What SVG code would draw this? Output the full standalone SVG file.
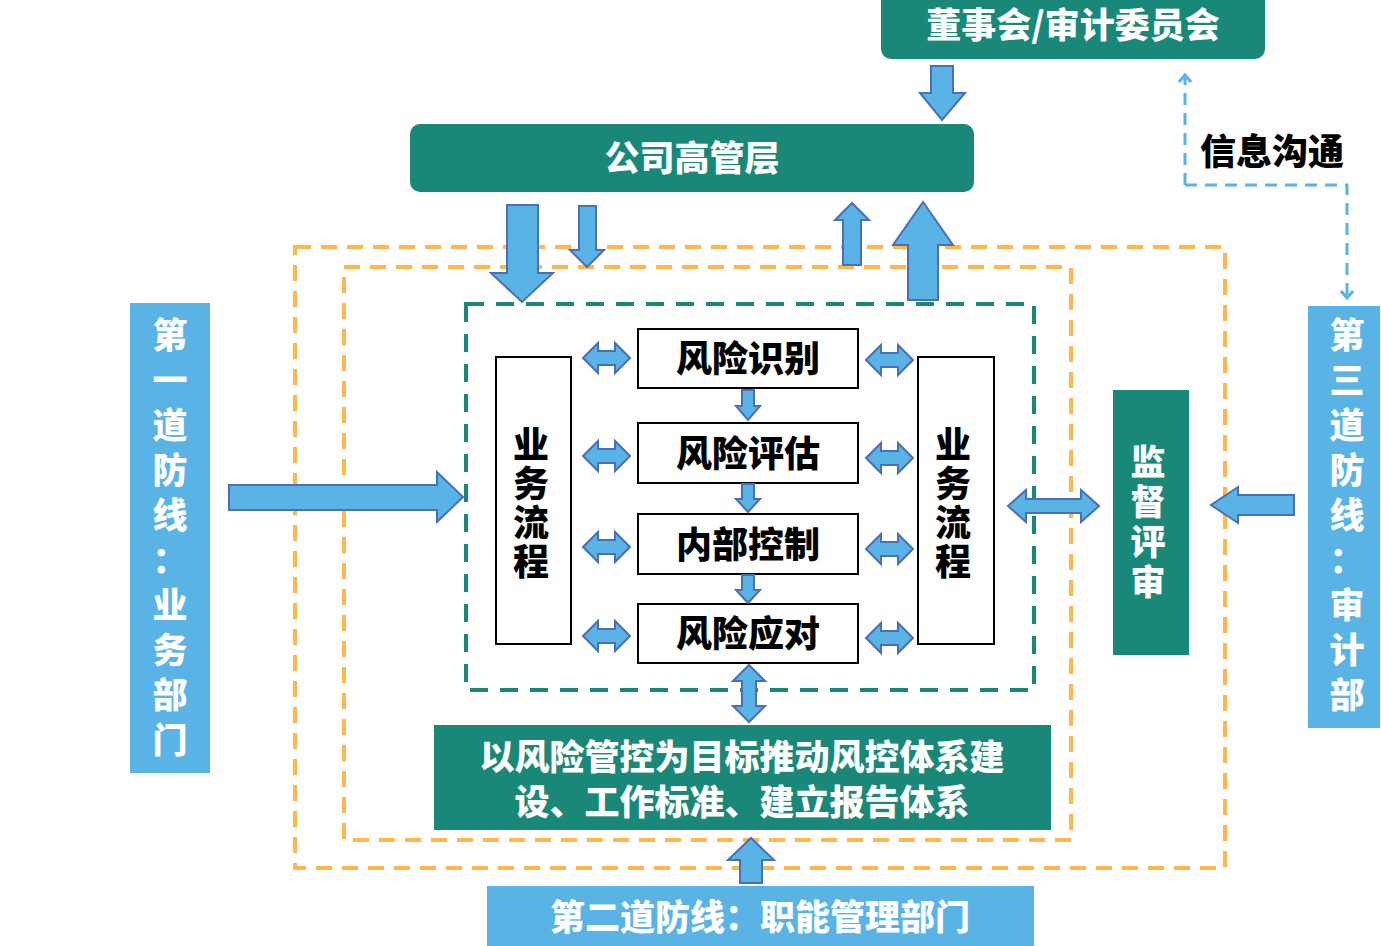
<svg xmlns="http://www.w3.org/2000/svg" width="1381" height="946" viewBox="0 0 1381 946">
<defs>
<style>
.teal{fill:#1a8878}
.lb{fill:#59b3e4}
.ar{fill:#59b3e4;stroke:#4a6fb5;stroke-width:2}
.wt{fill:#fff;font-family:"Noto Sans CJK SC",sans-serif;font-weight:900;font-size:35px;text-anchor:middle}
.bt{fill:#000;font-family:"Noto Sans CJK SC",sans-serif;font-weight:900;font-size:36px;text-anchor:middle}
.box{fill:#fff;stroke:#000;stroke-width:2}
.od{fill:none;stroke:#ffb74d;stroke-width:4;stroke-dasharray:16 10}
</style>
<marker id="bh" markerWidth="16" markerHeight="14" refX="8" refY="7" orient="auto" markerUnits="userSpaceOnUse"><path d="M1,1 L8,7 L1,13" fill="none" stroke="#59b3e4" stroke-width="3"/></marker>
</defs>
<rect width="1381" height="946" fill="#fff"/>
<rect class="od" x="295" y="247" width="930" height="621"/>
<rect class="od" x="344" y="267" width="727" height="573"/>
<rect x="466" y="304" width="568" height="386" fill="none" stroke="#1a8878" stroke-width="4" stroke-dasharray="18 12"/>

<g id="board"><rect class="teal" x="881" y="-10" width="384" height="69" rx="10"/><text class="wt" x="1073" y="38">董事会/审计委员会</text></g>
<g id="mgmt"><rect class="teal" x="410" y="124" width="564" height="68" rx="10"/><text class="wt" x="692" y="171">公司高管层</text></g>
<g id="line1"><rect class="lb" x="130" y="303" width="80" height="470"/>
<g class="wt" font-size="36"><text x="170" y="348">第</text><text x="170" y="393">一</text><text x="170" y="438">道</text><text x="170" y="483">防</text><text x="170" y="528">线</text><text x="170" y="573">：</text><text x="170" y="618">业</text><text x="170" y="663">务</text><text x="170" y="708">部</text><text x="170" y="753">门</text></g></g>
<g id="line3"><rect class="lb" x="1308" y="306" width="72" height="422"/>
<g class="wt" font-size="36"><text x="1347" y="348">第</text><text x="1347" y="393">三</text><text x="1347" y="438">道</text><text x="1347" y="483">防</text><text x="1347" y="528">线</text><text x="1347" y="573">：</text><text x="1347" y="618">审</text><text x="1347" y="663">计</text><text x="1347" y="708">部</text></g></g>
<g id="bizL"><rect class="box" x="496" y="357" width="75" height="287"/><g class="bt" font-size="38"><text x="531" y="458">业</text><text x="531" y="497">务</text><text x="531" y="536">流</text><text x="531" y="575">程</text></g></g>
<g id="bizR"><rect class="box" x="918" y="357" width="76" height="287"/><g class="bt" font-size="38"><text x="953" y="458">业</text><text x="953" y="497">务</text><text x="953" y="536">流</text><text x="953" y="575">程</text></g></g>
<g id="n1"><rect class="box" x="638" y="329" width="220" height="59"/><text class="bt" x="748" y="372">风险识别</text></g>
<g id="n2"><rect class="box" x="638" y="423" width="220" height="60"/><text class="bt" x="748" y="467">风险评估</text></g>
<g id="n3"><rect class="box" x="638" y="514" width="220" height="60"/><text class="bt" x="748" y="558">内部控制</text></g>
<g id="n4"><rect class="box" x="638" y="604" width="220" height="59"/><text class="bt" x="748" y="647">风险应对</text></g>
<g id="audit"><rect class="teal" x="1113" y="390" width="76" height="265"/><g class="wt" font-size="36"><text x="1148" y="475">监</text><text x="1148" y="515">督</text><text x="1148" y="555">评</text><text x="1148" y="595">审</text></g></g>
<g id="goal"><rect class="teal" x="434" y="725" width="617" height="105"/><text class="wt" x="742" y="770">以风险管控为目标推动风控体系建</text><text class="wt" x="742" y="815">设、工作标准、建立报告体系</text></g>
<g id="line2"><rect class="lb" x="487" y="886" width="547" height="60"/><text class="wt" x="760" y="930">第二道防线：职能管理部门</text></g>
<text x="1200" y="165" font-family="Noto Sans CJK SC,sans-serif" font-weight="900" font-size="36">信息沟通</text>

<g id="connectors">
<path d="M1185,185 V75" fill="none" stroke="#59b3e4" stroke-width="3" stroke-dasharray="12 8" marker-end="url(#bh)"/>
<path d="M1185,185 H1347 V298" fill="none" stroke="#59b3e4" stroke-width="3" stroke-dasharray="12 8" marker-end="url(#bh)"/>
<path class="ar" d="M931,66 H953 V93 H965 L942,120 L920,93 H931 Z"/>
<path class="ar" d="M507,205 H538 V273 H553 L522,302 L491,273 H507 Z"/>
<path class="ar" d="M579,206 H596 V250 H604 L587,267 L570,250 H579 Z"/>
<path class="ar" d="M843,265 H861 V220 H869 L852,203 L835,220 H843 Z"/>
<path class="ar" d="M908,300 H938 V245 H953 L923,202 L893,245 H908 Z"/>
<path class="ar" d="M229,485 H437 V472 L463,497 L437,522 V510 H229 Z"/>
<path class="ar" d="M1294,495 H1238 V487 L1211,505 L1238,523 V515 H1294 Z"/>
<path class="ar" d="M1008,506 L1026,490 V499 H1081 V490 L1099,506 L1081,522 V513 H1026 V522 Z"/>
<path class="ar" d="M749,665 L765,681 H756 V706 H765 L749,722 L733,706 H742 V681 H733 Z"/>
<path class="ar" d="M740,883 V860 H728 L751,838 L774,860 H762 V883 Z"/>
<g id="dn">
<path class="ar" d="M742,390 H754 V406 H760 L748,420 L736,406 H742 Z"/>
<path class="ar" d="M742,484 H754 V499 H760 L748,512 L736,499 H742 Z"/>
<path class="ar" d="M742,575 H754 V590 H760 L748,603 L736,590 H742 Z"/>
</g>
<g id="dbl">
<path id="dh" class="ar" d="M0,0 L15,-15 V-7 H32 V-15 L47,0 L32,15 V7 H15 V15 Z" transform="translate(583,358)"/>
<use href="#dh" transform="translate(0,98)"/><use href="#dh" transform="translate(0,189)"/><use href="#dh" transform="translate(0,278)"/>
<use href="#dh" transform="translate(283,2)"/><use href="#dh" transform="translate(283,100)"/><use href="#dh" transform="translate(283,191)"/><use href="#dh" transform="translate(283,280)"/>
</g>
</g>
</svg>
